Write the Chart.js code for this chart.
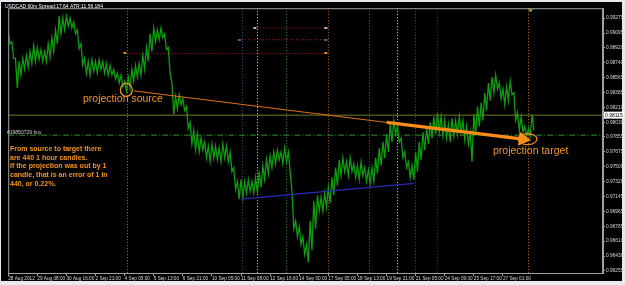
<!DOCTYPE html>
<html>
<head>
<meta charset="utf-8">
<script src="https://cdn.jsdelivr.net/npm/chart.js@4.4.1/dist/chart.umd.min.js"></script>
<style>
  html, body { margin: 0; padding: 0; background: #e6e9ee; }
  #wrap { width: 625px; height: 285px; }
</style>
</head>
<body>
<div id="wrap"><canvas id="chart" width="625" height="285"></canvas></div>
<script>
// USDCAD 60m - projection source / target

const dateLabels = ['28 Aug 2012', '29 Aug 08:00', '30 Aug 16:00', '2 Sep 21:00', '4 Sep 05:00', '5 Sep 13:00',
    '6 Sep 21:00', '10 Sep 05:00', '11 Sep 08:00', '12 Sep 16:00', '14 Sep 00:00', '17 Sep 05:00',
    '18 Sep 13:00', '19 Sep 21:00', '21 Sep 05:00', '24 Sep 09:00', '25 Sep 17:00', '27 Sep 01:00'];
const dateTicks = [0, 32, 64, 96, 128, 160, 192, 224, 256, 288, 320, 352, 384, 416, 448, 480, 512, 544];

const priceTicks = [0.99275, 0.99095, 0.98920, 0.98740, 0.98565, 0.98385, 0.98210, 0.98030, 0.97855,
    0.97675, 0.97500, 0.97320, 0.97145, 0.96965, 0.96785, 0.96610, 0.96430, 0.96255];

// one high/low pair every 4 hourly bars
const BAR_STEP = 4;
const highs = [
    0.99110, 0.98993, 0.98793, 0.98758, 0.98793, 0.98828, 0.98875, 0.98946, 0.98922, 0.98899,
    0.98875, 0.98969, 0.99040, 0.99134, 0.99299, 0.99275, 0.99299, 0.99275, 0.99228, 0.99134,
    0.98969, 0.98793, 0.98758, 0.98781, 0.98758, 0.98781, 0.98758, 0.98734, 0.98711, 0.98663,
    0.98616, 0.98593, 0.98522, 0.98569, 0.98663, 0.98711, 0.98734, 0.98828, 0.98922, 0.99087,
    0.99157, 0.99134, 0.99157, 0.99087, 0.98922, 0.98499, 0.98334, 0.98358, 0.98311, 0.98217,
    0.98028, 0.97934, 0.97887, 0.97840, 0.97793, 0.97746, 0.97770, 0.97746, 0.97723, 0.97770,
    0.97746, 0.97676, 0.97488, 0.97323, 0.97346, 0.97323, 0.97346, 0.97323, 0.97370, 0.97440,
    0.97511, 0.97582, 0.97629, 0.97676, 0.97699, 0.97676, 0.97723, 0.97676, 0.97205, 0.96852,
    0.96782, 0.96664, 0.96570, 0.96852, 0.97088, 0.97158, 0.97135, 0.97182, 0.97252, 0.97370,
    0.97488, 0.97582, 0.97605, 0.97558, 0.97605, 0.97535, 0.97511, 0.97558, 0.97488, 0.97464,
    0.97488, 0.97605, 0.97723, 0.97793, 0.97887, 0.98005, 0.98052, 0.97981, 0.97840, 0.97676,
    0.97558, 0.97511, 0.97676, 0.97793, 0.97911, 0.97958, 0.98028, 0.98099, 0.98146, 0.98099,
    0.98052, 0.98005, 0.98076, 0.98052, 0.98099, 0.98052, 0.97981, 0.97911, 0.98123, 0.98217,
    0.98264, 0.98381, 0.98499, 0.98569, 0.98593, 0.98499, 0.98428, 0.98452, 0.98522, 0.98381,
    0.98146, 0.98099, 0.97981, 0.97958, 0.98123
];
const lows = [
    0.98969, 0.98793, 0.98440, 0.98593, 0.98663, 0.98687, 0.98734, 0.98758, 0.98781, 0.98758,
    0.98758, 0.98805, 0.98875, 0.98969, 0.99087, 0.99134, 0.99181, 0.99157, 0.99087, 0.98910,
    0.98711, 0.98616, 0.98593, 0.98640, 0.98616, 0.98663, 0.98616, 0.98593, 0.98593, 0.98546,
    0.98499, 0.98452, 0.98405, 0.98428, 0.98522, 0.98569, 0.98593, 0.98663, 0.98758, 0.98875,
    0.98993, 0.99016, 0.99040, 0.98899, 0.98616, 0.98123, 0.98193, 0.98240, 0.98170, 0.97958,
    0.97770, 0.97699, 0.97676, 0.97699, 0.97605, 0.97558, 0.97605, 0.97582, 0.97558, 0.97605,
    0.97558, 0.97440, 0.97229, 0.97111, 0.97135, 0.97182, 0.97205, 0.97182, 0.97182, 0.97252,
    0.97346, 0.97417, 0.97488, 0.97535, 0.97582, 0.97535, 0.97558, 0.97440, 0.96758, 0.96664,
    0.96570, 0.96453, 0.96359, 0.96500, 0.96758, 0.96970, 0.96970, 0.97017, 0.97064, 0.97158,
    0.97276, 0.97393, 0.97440, 0.97393, 0.97440, 0.97370, 0.97346, 0.97393, 0.97323, 0.97299,
    0.97323, 0.97417, 0.97511, 0.97605, 0.97676, 0.97793, 0.97887, 0.97793, 0.97605, 0.97488,
    0.97370, 0.97346, 0.97440, 0.97582, 0.97699, 0.97770, 0.97840, 0.97887, 0.97911, 0.97864,
    0.97840, 0.97793, 0.97864, 0.97887, 0.97911, 0.97817, 0.97770, 0.97558, 0.97887, 0.97981,
    0.98052, 0.98170, 0.98287, 0.98381, 0.98428, 0.98311, 0.98240, 0.98287, 0.98358, 0.98052,
    0.97934, 0.97911, 0.97864, 0.97864, 0.97934
];

const currentPrice = 0.98115;
const orderPrice = 0.97876;

// objects drawn on the chart (bar index, price)
const sourceBar = 131, sourcePrice = 0.98417;
const targetBar = 571, targetPrice = 0.97829;
const projThin = [[138, 0.98405], [416, 0.98028]];
const projArrow = [[416, 0.98028], [566, 0.97828]];
const supportLine = [[256, 0.97111], [446, 0.97299]];
const levelPrices = [0.99157, 0.99016, 0.98852];
const levelStarts = [274, 257, 131];
const levelEnd = 352;
const markerBars = [131, 257, 274, 305, 352, 397, 428, 447, 472, 571];
const markerColors = ['#c8701a', '#3e5c7a', '#d8d8d8', '#1f8f1f', '#a8641a', '#1f8f1f', '#d8d8d8', '#3e5c7a', '#1d4f1d', '#c8701a'];

const noteLines = ['From source to target there', 'are 440 1 hour candles.', 'If the projection was out by 1',
    'candle, that is an error of 1 in', '440, or 0.22%.'];

const ORANGE = '#f7931e';

function seg(points) {
    return points.map(p => ({ x: p[0], y: p[1] }));
}

// zigzag through each high then low so the series reads like packed candles
const pricePath = [];
highs.forEach((h, i) => {
    pricePath.push({ x: i * BAR_STEP, y: h });
    pricePath.push({ x: i * BAR_STEP + BAR_STEP / 2, y: lows[i] });
});

const backdrop = {
    id: 'backdrop',
    beforeDraw(c) {
        const ctx = c.ctx;
        ctx.save();
        ctx.fillStyle = '#e6e9ee';
        ctx.fillRect(0, 0, c.width, c.height);
        ctx.fillStyle = '#000000';
        ctx.fillRect(1, 2, 621, 279);
        ctx.restore();
    },
    beforeDatasetsDraw(c) {
        const ctx = c.ctx, a = c.chartArea, xs = c.scales.x;
        ctx.save();
        ctx.lineWidth = 1;
        ctx.setLineDash([1, 2]);
        markerBars.forEach((b, i) => {
            const x = Math.round(xs.getPixelForValue(b)) + 0.5;
            ctx.strokeStyle = markerColors[i];
            ctx.beginPath();
            ctx.moveTo(x, a.top);
            ctx.lineTo(x, a.bottom);
            ctx.stroke();
        });
        ctx.restore();
    },
    afterDraw(c) {
        const ctx = c.ctx, a = c.chartArea, xs = c.scales.x, ys = c.scales.y;
        ctx.save();
        // frame
        ctx.strokeStyle = '#a0a0a0';
        ctx.lineWidth = 1;
        ctx.strokeRect(a.left + 0.5, a.top + 0.5, a.right - a.left - 1, a.bottom - a.top);

        // level markers
        levelPrices.forEach((p, i) => {
            const y = Math.round(ys.getPixelForValue(p));
            ctx.fillStyle = ['#b8b8b8', '#4a6a9a', '#e08a20'][i];
            ctx.fillRect(xs.getPixelForValue(levelStarts[i]) - 4, y - 1, 3, 2);
            ctx.fillRect(xs.getPixelForValue(levelEnd) - 4, y - 1, 3, 2);
        });

        // title + order label
        ctx.font = '5px "Liberation Sans", Arial';
        ctx.textBaseline = 'middle';
        ctx.fillStyle = '#ffffff';
        ctx.fillText('USDCAD 60m Spread:17.64 ATR:11.56.184', 5, 7);
        ctx.fillStyle = '#d0d0d0';
        ctx.fillText('#19850729 buy', 7, ys.getPixelForValue(orderPrice) - 2.5);

        // current price box
        const cy = ys.getPixelForValue(currentPrice);
        ctx.fillStyle = '#ffffff';
        ctx.fillRect(604, cy - 3.5, 20, 7);
        ctx.fillStyle = '#000000';
        ctx.fillText(currentPrice.toFixed(5), 605, cy);

        // circles
        ctx.strokeStyle = ORANGE;
        ctx.lineWidth = 1.2;
        ctx.beginPath();
        ctx.ellipse(xs.getPixelForValue(sourceBar) - 1, ys.getPixelForValue(sourcePrice), 6, 6.5, 0, 0, Math.PI * 2);
        ctx.stroke();
        ctx.beginPath();
        ctx.ellipse(xs.getPixelForValue(targetBar), ys.getPixelForValue(targetPrice), 9.5, 5.5, 0, 0, Math.PI * 2);
        ctx.stroke();

        // labels
        ctx.fillStyle = ORANGE;
        ctx.font = '10.5px "Liberation Sans", Arial';
        ctx.fillText('projection source', 83, 99);
        ctx.fillText('projection target', 493, 151);
        ctx.font = 'bold 7px "Liberation Sans", Arial';
        noteLines.forEach((t, i) => ctx.fillText(t, 10, 149 + i * 8.75));

        // small marker at top
        const tx = xs.getPixelForValue(targetBar) + 3;
        ctx.fillStyle = '#8fb030';
        ctx.beginPath();
        ctx.moveTo(tx - 2.5, a.top + 1);
        ctx.lineTo(tx + 2.5, a.top + 1);
        ctx.lineTo(tx, a.top + 4);
        ctx.closePath();
        ctx.fill();
        ctx.restore();
    }
};

const datasets = [
    {
        type: 'line',
        data: pricePath,
        borderColor: '#0c9e0c',
        borderWidth: 1.3,
        pointRadius: 0,
        tension: 0,
        order: 5
    },
    {
        type: 'line',
        data: seg([[0, currentPrice], [654, currentPrice]]),
        borderColor: '#6f7d2c', borderWidth: 1, pointRadius: 0, order: 3
    },
    {
        type: 'line',
        data: seg([[0, orderPrice], [654, orderPrice]]),
        borderColor: '#2f8f2f', borderWidth: 1, borderDash: [6, 2, 1, 2], pointRadius: 0, order: 6
    },
    {
        type: 'line',
        data: seg(projThin),
        borderColor: '#e0701a', borderWidth: 1, pointRadius: 0, order: 1
    },
    {
        type: 'line',
        data: seg(projArrow),
        borderColor: '#ff8c1a', borderWidth: 3.2, order: 1,
        pointRadius: [0, 5], pointStyle: 'triangle', rotation: 97,
        pointBackgroundColor: '#ff8c1a', pointBorderColor: '#ff8c1a'
    },
    {
        type: 'line',
        data: seg(supportLine),
        borderColor: '#2a2ab0', borderWidth: 1.3, pointRadius: 0, order: 1
    }
];

levelPrices.forEach((p, i) => {
    datasets.push({
        type: 'line',
        data: seg([[levelStarts[i], p], [levelEnd, p]]),
        borderColor: '#c01010', borderWidth: 1, borderDash: [1, 2], pointRadius: 0, order: 6
    });
});

new Chart(document.getElementById('chart'), {
    type: 'line',
    data: { datasets: datasets },
    plugins: [backdrop],
    options: {
        responsive: false,
        animation: false,
        devicePixelRatio: 1,
        layout: { padding: { left: 4, top: 4, right: 0, bottom: 4 } },
        plugins: { legend: { display: false }, tooltip: { enabled: false } },
        scales: {
            x: {
                type: 'linear',
                min: 0,
                max: 654,
                offset: false,
                afterBuildTicks: s => { s.ticks = dateTicks.map(v => ({ value: v })); },
                afterFit: s => { s.height = 8; },
                ticks: {
                    callback: (v, i) => dateLabels[i],
                    align: 'start',
                    autoSkip: false,
                    maxRotation: 0,
                    minRotation: 0,
                    padding: 0,
                    color: '#d8d8d8',
                    font: { size: 4.7, family: '"Liberation Sans", Arial' }
                },
                grid: { drawOnChartArea: false, tickLength: 3, color: '#a0a0a0' },
                border: { color: '#a0a0a0' }
            },
            y: {
                position: 'right',
                min: 0.96229,
                max: 0.99393,
                afterBuildTicks: s => { s.ticks = priceTicks.map(v => ({ value: v })); },
                afterFit: s => { s.width = 22; },
                ticks: {
                    callback: v => v.toFixed(5),
                    padding: 1,
                    color: '#d8d8d8',
                    font: { size: 4.8, family: '"Liberation Sans", Arial' }
                },
                grid: { drawOnChartArea: false, tickLength: 2, color: '#a0a0a0' },
                border: { color: '#a0a0a0' }
            }
        }
    }
});
</script>
</body>
</html>
